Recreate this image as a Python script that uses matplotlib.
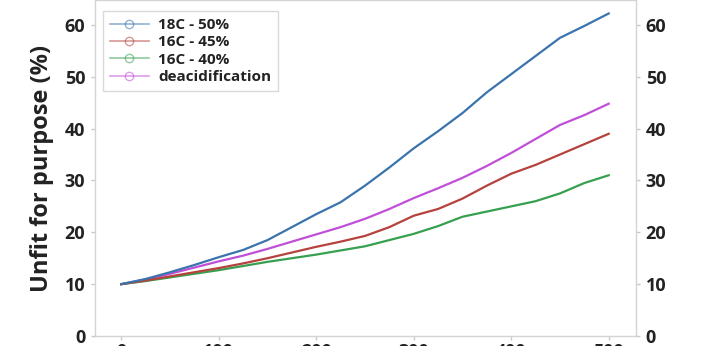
import matplotlib
matplotlib.use("Agg")
import matplotlib.pyplot as plt
from matplotlib.lines import Line2D
import numpy as np

# elapsed time and percentage of collection unfit for purpose
years = [0, 25, 50, 75, 100, 125, 150, 175, 200, 225, 250,
         275, 300, 325, 350, 375, 400, 425, 450, 475, 500]

c18_50 = [10, 11, 12.3, 13.7, 15.2, 16.6, 18.5, 21, 23.5, 25.8, 29,
          32.5, 36.2, 39.5, 43, 47, 50.5, 54, 57.5, 59.8, 62.2]
c16_45 = [10, 10.7, 11.5, 12.3, 13.1, 14, 15, 16.1, 17.2, 18.2, 19.3,
          21, 23.2, 24.5, 26.5, 29, 31.3, 33, 35, 37, 39]
c16_40 = [10, 10.6, 11.3, 12, 12.7, 13.5, 14.3, 15, 15.7, 16.5, 17.3,
          18.5, 19.7, 21.2, 23, 24, 25, 26, 27.5, 29.5, 31]
deacid = [10, 10.9, 12, 13.2, 14.4, 15.5, 16.8, 18.2, 19.6, 21, 22.6,
          24.5, 26.6, 28.5, 30.5, 32.8, 35.3, 38, 40.7, 42.6, 44.8]

labels = ["18C - 50%", "16C - 45%", "16C - 40%", "deacidification"]
colors = ["#3b73ad", "#b5423d", "#37a050", "#c04fd8"]
series = [c18_50, c16_45, c16_40, deacid]

plt.rcParams['font.family'] = ['Open Sans', 'DejaVu Sans']

fig = plt.figure(figsize=(7.2, 3.46), dpi=100)
ax = fig.add_axes([95 / 720, 10 / 346, 541 / 720, 336 / 346])

# draw lower series first so the blue curve sits on top
for vals, col in reversed(list(zip(series, colors))):
    ax.plot(years, vals, color=col, lw=1.6)

ax.set_xlim(-27, 528)
ax.set_ylim(0, 64.8)
ax.set_xticks(range(0, 501, 100))
ax.set_yticks(range(0, 61, 10))

for s in ax.spines.values():
    s.set_color("#d4d4d4")
    s.set_linewidth(1)

ax.tick_params(axis="both", colors="#c8c8c8", length=3, width=1,
               labelcolor="#222222", labelsize=13)
ax.tick_params(axis="y", right=True, labelright=True, pad=4)
ax.tick_params(axis="x", pad=2)
for t in ax.get_yticklabels() + ax.get_xticklabels():
    t.set_fontweight("bold")

ax.set_ylabel("Unfit for purpose (%)", fontsize=17, fontweight="bold",
              color="#222222", labelpad=8)

handles = [Line2D([0], [0], color=c, lw=1.2, alpha=0.55, marker="o",
                  markersize=6, markerfacecolor="none", markeredgecolor=c)
           for c in colors]
leg = ax.legend(handles, labels, loc="upper left", fontsize=11,
                frameon=True, fancybox=False, borderpad=0.45,
                handlelength=2.6, handletextpad=0.6, labelspacing=0.22,
                bbox_to_anchor=(0.0, 0.99))
leg.get_frame().set_edgecolor("#d0d0d0")
leg.get_frame().set_linewidth(1)
for t in leg.get_texts():
    t.set_fontweight("bold")
    t.set_color("#222222")

fig.savefig("out.png", dpi=100)
